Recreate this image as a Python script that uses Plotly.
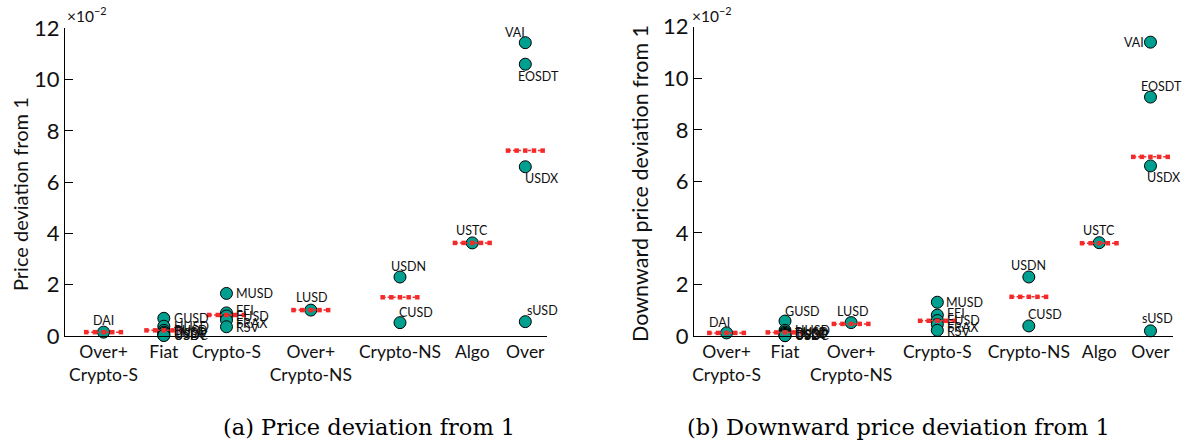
import plotly.graph_objects as go
import numpy as np

# ---------------- data ----------------
# Panel (a): price deviation from 1 (x10^-2)
cats_a = ["Over+<br>Crypto-S", "Fiat", "Crypto-S", "Over+<br>Crypto-NS", "Crypto-NS", "Algo", "Over"]
coins_a = {
    "Over+<br>Crypto-S": ["DAI"],
    "Fiat": ["GUSD", "HUSD", "BUSD", "TUSD", "USDP", "USDC", "USDT"],
    "Crypto-S": ["MUSD", "FEI", "EUSD", "FRAX", "RSV"],
    "Over+<br>Crypto-NS": ["LUSD"],
    "Crypto-NS": ["USDN", "CUSD"],
    "Algo": ["USTC"],
    "Over": ["VAI", "EOSDT", "USDX", "sUSD"],
}
vals_a = {
    "Over+<br>Crypto-S": [0.15],
    "Fiat": [0.69, 0.38, 0.22, 0.15, 0.10, 0.03, 0.02],
    "Crypto-S": [1.66, 0.90, 0.78, 0.62, 0.36],
    "Over+<br>Crypto-NS": [1.01],
    "Crypto-NS": [2.30, 0.52],
    "Algo": [3.63],
    "Over": [11.44, 10.60, 6.60, 0.56],
}
means_a = [0.15, 0.22, 0.82, 1.01, 1.51, 3.63, 7.23]

# Panel (b): downward price deviation from 1 (x10^-2)
cats_b = ["Over+<br>Crypto-S", "Fiat", "Over+<br>Crypto-NS", "Crypto-S", "Crypto-NS", "Algo", "Over"]
coins_b = {
    "Over+<br>Crypto-S": ["DAI"],
    "Fiat": ["GUSD", "HUSD", "BUSD", "TUSD", "USDP", "USDC", "USDT"],
    "Over+<br>Crypto-NS": ["LUSD"],
    "Crypto-S": ["MUSD", "FEI", "EUSD", "FRAX", "RSV"],
    "Crypto-NS": ["USDN", "CUSD"],
    "Algo": ["USTC"],
    "Over": ["VAI", "EOSDT", "USDX", "sUSD"],
}
vals_b = {
    "Over+<br>Crypto-S": [0.12],
    "Fiat": [0.58, 0.22, 0.15, 0.10, 0.06, 0.02, 0.01],
    "Over+<br>Crypto-NS": [0.52],
    "Crypto-S": [1.31, 0.81, 0.60, 0.45, 0.22],
    "Crypto-NS": [2.29, 0.39],
    "Algo": [3.62],
    "Over": [11.40, 9.27, 6.60, 0.20],
}
means_b = [0.12, 0.14, 0.47, 0.59, 1.52, 3.60, 6.95]

y_ticks = [0, 2, 4, 6, 8, 10, 12]

# ---------------- layout / style ----------------
# category slot positions along each x axis (axis range 0..10)
slot_a = [0.8, 2.05, 3.35, 5.1, 6.95, 8.45, 9.55]
slot_b = [0.68, 1.9, 3.28, 5.08, 6.99, 8.46, 9.53]

# label placement: (xanchor, x pixel shift, y pixel shift)
RIGHT = ("left", 8, 0)
label_off_a = {
    "DAI": ("center", 0, 12),
    "GUSD": RIGHT, "HUSD": RIGHT, "BUSD": RIGHT, "TUSD": RIGHT, "USDP": RIGHT, "USDC": RIGHT, "USDT": RIGHT,
    "MUSD": RIGHT, "FEI": ("left", 8, 2), "EUSD": RIGHT, "FRAX": ("left", 8, -3), "RSV": ("left", 8, -1),
    "LUSD": ("center", 1, 13),
    "USDN": ("center", 9, 11), "CUSD": ("center", 16, 10),
    "USTC": ("center", 0, 12),
    "VAI": ("center", -10, 10), "EOSDT": ("center", 13, -12), "USDX": ("center", 16, -12),
    "sUSD": ("center", 17, 11),
}
label_off_b = dict(label_off_a)
label_off_b.update({
    "DAI": ("center", -7, 10), "GUSD": ("center", 17, 10), "LUSD": ("center", 2, 11),
    "MUSD": ("left", 7, 0), "USDN": ("center", 0, 11), "CUSD": ("center", 16, 11),
    "USTC": ("center", 0, 12), "VAI": ("center", -16.5, 0), "EOSDT": ("center", 11, 11),
    "USDX": ("center", 13, -12), "sUSD": ("center", 7, 12),
})

TEAL = "#00A090"
RED = "#F42A2A"
SANS = "Lato, Calibri, sans-serif"
SERIF = "DejaVu Serif, serif"
HALF = 0.36  # half width of the mean marker line

fig = go.Figure()
annots = []


def add_panel(cats, coins, vals, means, slots, label_off, xa, ya):
    xs, ys = [], []
    for c, s in zip(cats, slots):
        for name, v in zip(coins[c], vals[c]):
            xs.append(s)
            ys.append(v)
            anc, dx, dy = label_off[name]
            annots.append(dict(
                x=s, y=v, xref=xa, yref=ya, text=name, showarrow=False,
                xanchor=anc, yanchor="middle", xshift=dx, yshift=dy,
                font=dict(family=SANS, size=12.5, color="#111"),
            ))
    fig.add_trace(go.Scatter(
        x=xs, y=ys, mode="markers",
        marker=dict(size=12, color=TEAL, line=dict(color="black", width=1)),
        cliponaxis=False, showlegend=False, xaxis=xa, yaxis=ya, hoverinfo="skip",
    ))
    mx, my = [], []
    for s, m in zip(slots, means):
        for off in np.linspace(-HALF, HALF, 5):
            mx.append(s + off)
            my.append(m)
        mx.append(None)
        my.append(None)
    fig.add_trace(go.Scatter(
        x=mx, y=my, mode="lines+markers",
        line=dict(color=RED, width=1.5, dash="3px,2px"),
        marker=dict(symbol="square", size=4.5, color=RED),
        cliponaxis=False, showlegend=False, xaxis=xa, yaxis=ya, hoverinfo="skip",
    ))


add_panel(cats_a, coins_a, vals_a, means_a, slot_a, label_off_a, "x", "y")
add_panel(cats_b, coins_b, vals_b, means_b, slot_b, label_off_b, "x2", "y2")

W, H = 1182, 445

xcommon = dict(range=[0, 10], showgrid=False, zeroline=False, showline=True, linecolor="black",
               linewidth=1, ticks="", tickangle=0, automargin=False,
               tickfont=dict(family=SANS, size=17.5, color="#111"))
ycommon = dict(range=[0, 12], showgrid=False, zeroline=False, showline=True, linecolor="black",
               linewidth=1, ticks="inside", ticklen=8, tickcolor="black", tickvals=y_ticks,
               automargin=False,
               ticktext=[str(t) for t in y_ticks], tickfont=dict(family=SANS, size=22, color="#111"))

fig.update_layout(
    width=W, height=H, margin=dict(l=0, r=0, t=0, b=0, autoexpand=False),
    paper_bgcolor="white", plot_bgcolor="white",
    xaxis=dict(xcommon, domain=[65 / W, 547 / W], anchor="y",
               tickvals=slot_a, ticktext=cats_a),
    yaxis=dict(ycommon, domain=[(H - 336) / H, (H - 28.3) / H], anchor="x"),
    xaxis2=dict(xcommon, domain=[694 / W, 1173 / W], anchor="y2",
                tickvals=slot_b, ticktext=cats_b),
    yaxis2=dict(ycommon, domain=[(H - 336) / H, (H - 26.7) / H], anchor="x2"),
)

paper_annots = [
    dict(text="×10<sup>−2</sup>", x=65 / W, y=(H - 15) / H, xanchor="left", yanchor="middle",
         font=dict(family=SANS, size=15.5, color="#111")),
    dict(text="×10<sup>−2</sup>", x=690 / W, y=(H - 15) / H, xanchor="left", yanchor="middle",
         font=dict(family=SANS, size=15.5, color="#111")),
    dict(text="Price deviation from 1", x=20 / W, y=(H - 194) / H, textangle=-90,
         xanchor="center", yanchor="middle", font=dict(family=SANS, size=20, color="#111")),
    dict(text="Downward price deviation from 1", x=640 / W, y=(H - 184) / H, textangle=-90,
         xanchor="center", yanchor="middle", font=dict(family=SANS, size=21.5, color="#111")),
    dict(text="(a) Price deviation from 1", x=369 / W, y=(H - 427) / H,
         xanchor="center", yanchor="middle", font=dict(family=SERIF, size=22.5, color="black")),
    dict(text="(b) Downward price deviation from 1", x=898 / W, y=(H - 427) / H,
         xanchor="center", yanchor="middle", font=dict(family=SERIF, size=22.5, color="black")),
]
for a in paper_annots:
    a.update(xref="paper", yref="paper", showarrow=False)
fig.update_layout(annotations=annots + paper_annots)

fig.write_html(
    "out.html",
    config={"displayModeBar": False},
    post_script="document.body.style.margin='0px';document.body.style.overflow='hidden';",
)
